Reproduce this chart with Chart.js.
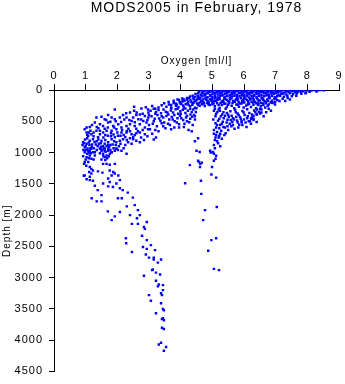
<!DOCTYPE html>
<html>
<head>
<meta charset="utf-8">
<title>MODS2005 in February, 1978</title>
<script src="https://cdn.jsdelivr.net/npm/chart.js@4/dist/chart.umd.min.js"></script>
<style>
  html, body { margin: 0; padding: 0; background: #fff; }
  canvas { display: block; }
</style>
</head>
<body>
<canvas id="c" width="345" height="384"></canvas>
<script>
// Dissolved oxygen profiles, MODS2005, February 1978.
// Each entry is [oxygen (ml/l), depth (m)].

const titleText = 'MODS2005 in February, 1978';
const oxygenLabel = 'Oxygen [ml/l]';
const depthLabel = 'Depth [m]';
const oxygenTicks = [0, 1, 2, 3, 4, 5, 6, 7, 8, 9];
const depthTicks = [0, 500, 1000, 1500, 2000, 2500, 3000, 3500, 4000, 4500];

// Mixed layer, 0-120 m
const surfaceLayer = [
  [4.63,0],[4.71,6],[4.80,0],[4.87,10],[4.95,2],[5.03,8],[5.10,0],[5.18,10],[5.25,3],[5.33,6],[5.41,0],[5.48,10],[5.56,2],[5.64,7],[5.72,0],[5.79,10],[5.87,4],[5.95,6],[6.02,0],[6.10,10],[6.18,1],[6.26,5],[6.33,0],[6.41,10],[6.49,3],[6.56,6],[6.64,0],[6.72,10],[6.80,2],[6.87,7],[6.95,0],[7.03,10],[7.10,4],[7.18,5],[7.26,0],[7.34,10],[7.41,2],[7.49,6],[7.57,0],[7.64,10],[7.73,3],[7.81,5],[7.90,0],[8.02,2],[8.13,6],[8.22,0],[8.34,4],[8.42,0],[8.52,2],
  [4.58,25],[4.67,38],[4.75,20],[4.83,42],[4.91,30],[4.99,21],[5.07,45],[5.14,31],[5.22,24],[5.30,40],[5.38,20],[5.45,35],[5.53,26],[5.61,44],[5.69,30],[5.76,20],[5.84,41],[5.92,25],[6.00,36],[6.07,20],[6.15,45],[6.23,30],[6.30,24],[6.38,40],[6.46,21],[6.54,35],[6.61,26],[6.69,44],[6.77,30],[6.85,20],[6.92,40],[7.00,25],[7.08,36],[7.15,20],[7.23,45],[7.31,30],[7.39,24],[7.46,41],[7.54,20],[7.62,35],[7.70,26],[7.79,30],[7.87,20],[7.96,38],[8.07,25],[8.29,21],
  [4.47,62],[4.55,50],[4.63,75],[4.70,55],[4.78,66],[4.86,51],[4.94,80],[5.01,60],[5.09,50],[5.17,71],[5.24,55],[5.32,76],[5.40,61],[5.47,50],[5.55,79],[5.63,65],[5.70,54],[5.78,75],[5.86,50],[5.94,61],[6.01,80],[6.09,55],[6.17,70],[6.24,50],[6.32,75],[6.40,60],[6.47,54],[6.55,80],[6.63,51],[6.71,65],[6.78,75],[6.86,55],[6.94,61],[7.02,50],[7.09,78],[7.17,60],[7.25,55],[7.34,70],[7.44,50],[7.55,65],[7.67,55],[7.81,60],[7.94,50],
  [4.30,101],[4.38,90],[4.46,111],[4.54,95],[4.62,120],[4.69,100],[4.77,86],[4.85,115],[4.93,95],[5.00,106],[5.08,90],[5.16,119],[5.24,100],[5.31,85],[5.39,110],[5.47,96],[5.55,120],[5.62,101],[5.70,90],[5.78,115],[5.86,100],[5.93,86],[6.01,110],[6.09,95],[6.16,120],[6.24,100],[6.32,91],[6.40,111],[6.47,95],[6.55,119],[6.63,100],[6.71,85],[6.79,110],[6.88,95],[6.97,115],[7.05,100],[7.14,90],[7.26,105],[7.37,95],[7.51,100],[7.65,90]
];

// Upper oxycline, 120-300 m
const upperOxycline = [
  [3.62,190],[3.78,171],[3.90,150],[3.97,196],[4.05,135],[4.12,176],[4.20,155],[4.27,126],[4.34,190],[4.41,141],[4.49,165],[4.56,130],[4.63,185],[4.70,150],[4.78,136],[4.85,170],[4.93,145],[5.00,191],[5.08,130],[5.15,160],[5.23,140],[5.30,181],[5.38,125],[5.45,155],[5.53,195],[5.60,135],[5.68,170],[5.75,146],[5.83,185],[5.90,131],[5.98,160],[6.05,140],[6.13,175],[6.20,150],[6.28,130],[6.35,190],[6.43,145],[6.50,166],[6.58,135],[6.65,180],[6.73,151],[6.80,130],[6.88,170],[6.96,141],[7.05,160],[7.22,140],[7.38,128],[7.30,176],[7.45,150],
  [3.84,215],[3.95,160],[4.02,205],[4.10,150],[4.16,225],[4.24,185],[4.31,160],[4.38,210],[4.45,180],[4.52,150],[4.59,205],[4.66,170],[4.74,215],[4.81,155],[4.89,200],[4.96,165],[5.04,215],[5.11,175],[5.19,150],[5.26,205],[5.34,165],[5.41,220],[5.49,175],[5.56,150],[5.64,205],[5.71,185],[5.79,160],[5.86,215],[5.94,175],[6.01,200],[6.09,160],[6.16,220],[6.24,185],[6.31,155],[6.39,210],[6.46,180],[6.54,205],[6.61,160],[6.69,195],[6.76,175],[6.84,200],[6.98,190],[7.12,175],
  [3.30,280],[3.40,241],[3.48,210],[3.55,265],[3.63,230],[3.70,290],[3.78,206],[3.85,250],[3.93,275],[4.00,221],[4.08,245],[4.15,295],[4.22,210],[4.30,260],[4.37,235],[4.45,281],[4.52,215],[4.60,250],[4.68,226],[4.76,255],[4.84,205],[4.92,240],[5.00,226],[5.08,260],[5.15,211],[5.23,285],[5.30,240],[5.38,220],[5.46,270],[5.53,206],[5.61,250],[5.69,290],[5.76,231],[5.84,265],[5.92,215],[5.99,280],[6.07,245],[6.14,210],[6.22,270],[6.30,236],[6.38,290],[6.46,220],[6.53,260],[6.61,240],[6.69,212],[6.78,231],[6.90,205],[2.53,265],[2.76,295],[2.90,275],[3.10,255],[3.20,300],[6.67,280],[6.98,230],[6.89,200],
  [3.70,240],[3.88,230],[4.06,180],[4.25,240],[4.42,200],[4.55,240],[4.72,190],[4.88,230],[5.05,175],[5.20,240],[5.35,195],[5.50,235],[5.66,180],[5.80,235],[5.95,195],[6.12,230],[6.28,200],[6.44,240],[6.60,215],[6.75,250],
  [4.20,125],[4.40,120],[4.60,140],[4.80,125],[5.00,145],[5.20,125],[5.40,140],[5.60,120],[5.80,140],[6.00,125],[6.20,140],[6.40,125],[6.60,145],[6.80,120],[7.00,135]
];

// Oxygen-minimum lobe, 300-1000 m, low-oxygen side
const minimumLobe = [
  [1.92,310],[2.97,310],[2.61,360],[2.71,390],[2.87,415],[2.98,360],[2.50,440],[2.66,465],[2.82,495],[2.98,440],[2.92,520],[1.34,440],[1.50,425],[1.60,465],[1.71,400],[1.82,440],[1.92,465],[2.08,440],[2.18,400],[2.29,440],[2.45,495],[2.28,370],[2.53,330],
  [1.29,520],[1.03,600],[1.13,590],[1.45,545],[1.55,575],[1.71,520],[1.87,575],[2.03,545],[2.13,600],[2.29,575],[2.40,545],[2.55,575],[2.71,545],[2.87,600],[3.03,625],
  [0.97,625],[1.03,680],[1.08,730],[1.18,705],[1.34,650],[1.45,705],[1.55,680],[1.66,650],[1.82,650],[1.97,625],[2.13,680],[2.29,680],[2.45,705],[2.71,680],[2.87,705],
  [0.92,835],[1.03,860],[0.97,915],[1.13,810],[1.23,785],[1.39,755],[1.50,810],[1.60,860],[1.71,835],[1.82,785],[1.92,755],[1.97,835],[2.08,810],[2.18,785],[2.34,835],[2.50,785],
  [1.13,970],[1.29,995],[1.45,940],[1.60,970],[1.71,940],[1.82,995],[1.97,940],[2.13,970],
  [1.48,905],[1.58,925],[1.66,900],[1.74,915],[1.52,950],[1.63,985],[1.78,960],[0.90,880],[0.95,850],[1.00,900],[1.06,935],[1.12,880],[1.20,905],[1.26,930],[1.32,870],[1.38,900],
  [2.02,730],[2.30,655],[2.40,770],[2.50,755],[2.71,835],[2.97,625],[2.84,800],[2.60,620],[2.20,720],[1.25,740],[1.40,790],[1.56,760],[1.88,710],[1.70,730],[1.05,770],[1.15,650],[1.95,880],[2.05,900],[1.85,870],[2.25,880],[1.28,830],[1.42,860],[1.10,1000],
  [3.05,330],[3.15,300],[3.22,350],[3.30,320],[3.38,370],[3.46,310],[3.53,345],[3.61,390],[3.69,325],[3.76,360],[3.84,305],[3.92,380],[3.99,340],[4.07,315],[4.15,365],[4.23,330],[4.31,390],[4.40,310],[4.48,350],
  [3.08,420],[3.18,460],[3.27,400],[3.36,490],[3.45,440],[3.55,415],[3.64,470],[3.72,430],[3.81,500],[3.90,450],[3.98,410],[4.08,480],[4.17,440],[4.27,515],[4.36,425],[4.45,470],
  [3.12,540],[3.25,580],[3.40,530],[3.52,610],[3.66,560],[3.80,600],[3.95,545],[4.10,590],[4.25,640],[3.20,640],[3.10,700],[3.22,760],[3.15,790],
  [1.65,480],[1.78,505],[1.95,500],[2.12,510],[2.22,470],[2.38,480],[2.55,515],[2.75,470],[2.95,480],[3.15,500],[3.32,455],[3.48,520],[3.60,540],[3.75,470],[3.88,520],[4.02,450],[4.20,500],[4.38,560],[4.42,400],[4.30,460],[4.12,540],[3.95,600],[3.70,625],[3.45,580],[3.30,660],[3.00,560],[2.80,640],[2.60,690],[2.35,620],[2.15,640],[1.90,600],[1.70,600],[1.40,610],[1.20,560],[1.35,590],[1.60,620],[1.80,690],[2.00,680],[2.25,750],[2.55,720],[2.75,760],[2.95,740],
  [1.10,840],[1.20,870],[1.35,820],[1.48,850],[1.62,800],[1.78,880],[1.90,820],[2.10,860],[2.30,800],[2.45,860],[2.60,810],[1.00,960],[1.15,930],[1.35,960],[1.55,900],[1.70,880],[1.88,930],[2.02,960],[2.20,930],[0.93,960],[0.98,790],[1.05,720],[1.10,680],[1.25,680],[1.45,650],[1.62,720],[1.80,740],[2.10,730],[2.40,660],[2.65,660],
  [2.40,360],[2.60,400],[2.80,380],[3.00,400],[3.20,380],[3.40,420],[3.58,360],[3.80,400],[4.00,380],[4.20,410],[4.35,350],[4.45,420],[3.70,280],[3.90,300],[4.10,280],[4.30,300],[4.50,290]
];

// 300-900 m, high-oxygen side
const ventilatedBranch = [
  [5.05,330],[5.12,380],[5.20,310],[5.27,420],[5.35,355],[5.42,300],[5.50,395],[5.57,340],[5.65,450],[5.72,315],[5.80,375],[5.87,430],[5.95,335],[6.02,400],[6.10,305],[6.17,365],[6.25,445],[6.32,325],[6.40,390],[6.47,345],[6.55,310],[6.62,420],[6.70,355],[6.78,300],[6.85,330],
  [5.03,470],[5.10,530],[5.18,490],[5.25,560],[5.33,505],[5.40,600],[5.48,475],[5.55,540],[5.63,510],[5.70,620],[5.78,485],[5.85,555],[5.93,520],[6.00,470],[6.08,590],[6.15,500],[6.22,540],[6.30,480],[6.40,510],[6.22,460],
  [5.05,640],[5.15,670],[5.28,650],[5.42,690],[5.12,720],[5.20,760],[5.08,800],[5.30,780],[5.18,850],[5.05,880],
  [6.41,310],[6.51,300],[6.25,390],[6.41,385],[6.51,375],[6.25,440],[6.19,500],[6.30,460],[5.08,300],[5.16,350],[5.24,330],[5.31,390],[5.46,365],[5.61,410],[5.74,355],[5.83,400],[5.99,360],[6.12,420],[6.36,355],[6.55,360],[5.36,450],[5.52,430],[5.68,470],[5.90,460],[6.05,520],[5.45,520],[5.60,580],[5.22,610],[5.35,590],[5.50,640],[5.82,600],[5.95,560],
  [5.10,420],[5.22,460],[5.40,410],[5.58,480],[5.75,430],[5.92,500],[6.10,450],[6.30,410],[5.15,560],[5.30,540],[5.48,580],[5.65,560],[5.80,520],[5.12,600],[5.25,700],[5.38,720],[5.10,760],[5.15,820],[5.25,900]
];

// Stations holding about 4.5-5 ml/l below 650 m
const oxygenatedStations = [
  [4.35,660],[4.55,770],[4.45,820],[5.05,700],[5.22,730],[4.50,970],[4.60,990],[4.93,970],[5.02,990],[5.05,1020],[5.08,930],[4.95,1000],[5.12,1050],[4.58,1150],[4.67,1160],[4.55,1130],[4.62,1180],[5.10,1100],[5.05,1130],[4.29,1200],[4.61,1230],[4.99,1230],[4.97,1350],[5.12,1400],[4.64,1450],[4.14,1490],[4.65,1660],[5.14,1870],[4.77,1920],[4.71,2080],[5.12,2370],[4.97,2400],[4.87,2570],[5.05,2860],[5.21,2880]
];

// 1000-2150 m below the minimum
const lowerMinimum = [
  [0.97,995],[1.08,970],[1.18,940],[1.23,995],[1.13,1045],[1.03,1075],[1.18,1100],[0.97,1150],[1.08,1150],[1.29,1045],[1.50,970],[1.60,940],[1.71,970],[1.82,995],[1.55,1020],[1.66,1045],[1.76,1020],[1.92,970],[1.97,940],[1.60,1075],[2.29,1020],
  [1.45,1010],[1.56,1060],[1.68,1090],[1.73,1060],[1.62,1120],[1.50,1110],[1.16,1010],[1.05,1020],[0.92,1060],[1.00,1110],[1.10,1090],[1.25,1110],[0.95,1180],[1.02,1210],
  [1.55,1180],[1.66,1180],[1.76,1195],[1.92,1180],[1.13,1230],[1.18,1260],[1.23,1285],[1.11,1310],[1.18,1335],[1.39,1300],[1.53,1320],[1.76,1285],[1.87,1310],[1.82,1365],[1.92,1335],[2.03,1365],[0.97,1365],[1.03,1425],[1.13,1440],[1.23,1450],[1.71,1415],[1.76,1470],[2.08,1440],[1.97,1495],[1.55,1495],[1.71,1540],[0.94,1370],[1.13,1385],
  [1.29,1530],[1.38,1600],[1.86,1550],[2.08,1570],[2.17,1600],[2.33,1640],[1.50,1680],[1.19,1730],[1.35,1780],[1.50,1780],[2.02,1730],[2.14,1730],[2.49,1720],[1.70,1940],[2.08,1950],[2.30,1860],[2.55,1840],[2.65,1920],[1.82,2080],[1.92,2020],[2.40,2000],[2.62,2050],[2.71,2000],[2.93,2110]
];

// Deep water, below 2100 m
const deepWater = [
  [2.46,2140],[2.65,2140],[2.84,2190],[2.87,2220],[2.78,2330],[2.27,2370],[2.93,2400],[2.28,2450],[3.06,2480],[2.81,2510],[2.93,2540],[3.19,2560],[2.46,2590],[2.90,2630],[3.00,2680],[3.15,2680],[3.15,2710],[3.38,2710],[3.28,2760],[3.12,2870],[3.10,2880],[3.22,2920],[3.35,2950],[2.84,2970],[3.22,3050],[3.31,3110],[3.44,3120],[3.28,3140],[3.44,3200],[3.38,3250],[3.41,3280],[3.00,3280],[3.06,3370],[3.38,3410],[3.44,3500],[3.47,3520],[3.22,3570],[3.44,3650],[3.41,3660],[3.47,3680],[3.41,3800],[3.47,3820],[3.38,4040],[3.31,4070],[3.54,4110],[3.47,4170]
];

const observations = [].concat(
  surfaceLayer, upperOxycline, minimumLobe, ventilatedBranch,
  oxygenatedStations, lowerMinimum, deepWater
).map(([oxygen, depth]) => ({ x: oxygen, y: depth }));

const ink = '#000000';
const markColor = '#0000ff';

// Slightly tracked lettering for every label on the canvas
const letterTracking = {
  id: 'letterTracking',
  beforeLayout(chart) { chart.ctx.letterSpacing = '1px'; },
  beforeDraw(chart) { chart.ctx.letterSpacing = '1px'; }
};

const tickFont = { family: '"Liberation Sans", Arial, sans-serif', size: 11, weight: 'normal', lineHeight: 1.2 };
const labelFont = { family: '"Liberation Sans", Arial, sans-serif', size: 10, weight: 'normal', lineHeight: 1.2 };

new Chart(document.getElementById('c'), {
  type: 'scatter',
  data: {
    datasets: [{
      data: observations,
      pointStyle: 'rect',
      pointRadius: 1.75,
      pointHoverRadius: 1.75,
      pointBorderWidth: 0,
      borderWidth: 0,
      backgroundColor: markColor,
      borderColor: markColor
    }]
  },
  options: {
    responsive: false,
    animation: false,
    devicePixelRatio: 1,
    events: [],
    layout: { padding: { left: 0, right: 6, top: 0, bottom: 9 } },
    plugins: {
      legend: { display: false },
      tooltip: { enabled: false },
      title: {
        display: true,
        text: titleText,
        fullSize: false,
        color: ink,
        font: { family: '"Liberation Sans", Arial, sans-serif', size: 14, weight: 'normal', lineHeight: 1.15 },
        padding: { top: 0, bottom: 0 }
      }
    },
    scales: {
      x: {
        type: 'linear',
        position: 'top',
        min: oxygenTicks[0],
        max: oxygenTicks[oxygenTicks.length - 1],
        afterBuildTicks(scale) { scale.ticks = oxygenTicks.map(v => ({ value: v })); },
        afterFit(scale) { scale.height = 74; },
        ticks: { color: ink, font: tickFont, padding: 2, maxRotation: 0, autoSkip: false, callback: v => String(v) },
        grid: { drawOnChartArea: false, drawTicks: true, tickLength: 6, color: ink, lineWidth: 1 },
        border: { display: true, color: ink, width: 1 },
        title: { display: true, text: oxygenLabel, color: ink, font: labelFont, padding: { top: 39, bottom: 0 } }
      },
      y: {
        type: 'linear',
        position: 'left',
        reverse: true,
        min: depthTicks[0],
        max: depthTicks[depthTicks.length - 1],
        afterBuildTicks(scale) { scale.ticks = depthTicks.map(v => ({ value: v })); },
        afterFit(scale) { scale.width = 54; },
        ticks: { color: ink, font: tickFont, padding: 6, autoSkip: false, callback: v => String(v) },
        grid: { drawOnChartArea: false, drawTicks: true, tickLength: 5, color: ink, lineWidth: 1 },
        border: { display: true, color: ink, width: 1 },
        title: { display: true, text: depthLabel, color: ink, font: labelFont, padding: { top: 1.5, bottom: 0 } }
      }
    }
  },
  plugins: [letterTracking]
});
</script>
</body>
</html>
